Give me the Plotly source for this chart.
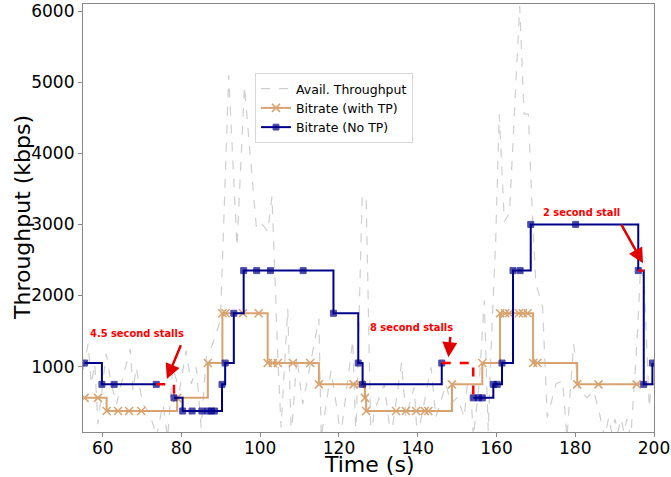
import plotly.graph_objects as go

# ---------------- data ----------------
tp_time = [55.0, 56.3, 57.1, 58.0, 58.8, 60.9, 62.2, 63.5, 64.7, 67.0, 67.7, 68.5, 70.2, 71.5,
           72.8, 73.6, 75.3, 76.5, 77.8, 79.5, 81.2, 82.5, 83.8, 85.0, 86.3, 87.8, 89.9, 92.0,
           94.1, 96.0, 99.0, 100.0, 101.9, 103.0, 104.5, 105.3, 107.0, 107.9, 109.3, 110.8,
           112.9, 114.9, 115.5, 118.0, 119.7, 120.4, 123.5, 124.3, 125.9, 126.9, 128.1, 129.0,
           131.5, 133.2, 135.9, 137.0, 139.1, 139.9, 143.4, 144.6, 147.2, 148.4, 150.1, 151.8,
           152.6, 153.5, 154.1, 155.6, 156.9, 157.9, 158.6, 159.8, 160.7, 162.0, 163.3, 165.9,
           167.0, 168.1, 169.1, 170.0, 171.7, 172.9, 175.1, 176.8, 177.9, 179.6, 180.9, 183.0,
           184.7, 186.0, 187.5, 188.5, 189.3, 190.1, 190.8, 191.6, 192.4, 193.1, 194.1, 195.8,
           196.6, 197.5, 198.8, 199.7, 200.4]
tp_kbps = [950, 1320, 755, 1040, 190, 1180, 755, 470, 755, 1250, 660, 990, 470, 380,
           190, 0, 470, 0, 990, 660, 1225, 755, 990, 140, 1130, 1300, 1650, 5100,
           2690, 4940, 2970, 3040, 2900, 3395, 1085, 140, 1815, 0, 1130, 470,
           1085, 1675, 0, 945, 330, 0, 1370, 0, 3395, 3395, 0, 380,
           755, 0, 1060, 280, 710, 0, 990, 285, 755, 480, 565, 285,
           755, 660, 0, 755, 1930, 95, 1225, 2780, 4550, 3040, 3160, 6070,
           4550, 4550, 3160, 2170, 1840, 285, 755, 800, 0, 1320, 660, 565,
           660, 380, 0, 285, 70, 265, 70, 265, 70, 265, 0, 1460,
           2400, 2170, 425, 990, 1370]

with_tp_time = [55.4, 58.8, 61.0, 63.9, 66.7, 69.8, 78.9, 86.7, 90.4, 91.2, 95.6, 99.6, 101.9,
                103.2, 104.5, 108.3, 112.7, 114.9, 123.7, 125.5, 126.6, 126.9, 134.5, 137.0,
                139.6, 141.8, 142.7, 148.7, 156.4, 160.9, 162.2, 163.2, 165.7, 166.7, 167.9,
                169.3, 170.4, 180.5, 185.9, 195.6, 201.0]
with_tp_kbps = [560, 560, 375, 375, 375, 375, 560, 1050, 1750, 1750, 1750, 1750, 1050,
                1050, 1050, 1050, 1050, 750, 750, 750, 560, 375, 375, 375,
                375, 375, 375, 750, 1050, 1750, 1750, 1750, 1750, 1750, 1750,
                1050, 1050, 750, 750, 750, 750]

no_tp_time = [55.4, 59.8, 62.9, 73.6, None, 78.1, 80.3, 82.7, 85.2, 86.7, 87.6, 88.4, 90.3,
              91.1, 93.3, 95.8, 99.1, 102.6, 110.9, 118.6, 124.9, 126.0, 146.1, None,
              154.1, 155.4, 156.4, 159.2, 160.2, 161.4, 164.2, 166.0, 168.7, 180.1, 196.0,
              None, 197.3, 197.4, 199.6]
no_tp_kbps = [1050, 750, 750, 750, None, 560, 375, 375, 375, 375, 375, 375, 750,
              1050, 1750, 2350, 2350, 2350, 2350, 1750, 1050, 750, 1050, None,
              560, 560, 560, 750, 750, 1050, 2350, 2350, 3000, 3000, 2350,
              None, 2350, 750, 1050]
no_tp_show = [1] * len(no_tp_time)
no_tp_show[36] = 0  # hidden helper point after the 2 s stall

stall_segments = [([73.6, 78.1], [750, 560]),
                  ([146.1, 154.1], [1050, 560]),
                  ([196.0, 197.3], [2350, 2350])]

stall_labels = ["4.5 second stalls", "8 second stalls", "2 second stall"]
label_pos = [(68.6, 1470), (138.5, 1556), (181.5, 3168)]
arrow_tail = [(80.0, 1321), (148.3, 1438), (191.5, 3018)]
arrow_head = [(76.3, 826), (147.8, 1132), (197.2, 2453)]

x_ticks = [60, 80, 100, 120, 140, 160, 180, 200]
y_ticks = [1000, 2000, 3000, 4000, 5000, 6000]
x_range = [55, 200]
y_range = [80, 6100]

# ---------------- figure ----------------
BLUE = "#00008B"
ORANGE = "#D9A26E"
FONT = "DejaVu Sans"
ML, MR, MT, MB = 83, 17, 4, 45
W, H = 671, 477
PW, PH = W - ML - MR, H - MT - MB

fig = go.Figure()

fig.add_trace(go.Scatter(
    x=tp_time, y=tp_kbps, mode="lines", name="Avail. Throughput",
    line=dict(color="#cfcfcf", width=1.2, dash="dash")))

fig.add_trace(go.Scatter(
    x=with_tp_time, y=with_tp_kbps, mode="lines+markers", name="Bitrate (with TP)",
    line=dict(color=ORANGE, width=2, shape="hv"),
    marker=dict(symbol="x-thin", size=8, color=ORANGE, line=dict(width=1.5, color=ORANGE))))

fig.add_trace(go.Scatter(
    x=no_tp_time, y=no_tp_kbps, mode="lines+markers", name="Bitrate (No TP)",
    connectgaps=False,
    line=dict(color=BLUE, width=2, shape="hv"),
    marker=dict(symbol="square", size=[6 * s for s in no_tp_show], color=BLUE,
                line=dict(width=1, color=BLUE))))

for xs, ys in stall_segments:
    fig.add_trace(go.Scatter(
        x=xs, y=ys, mode="lines", showlegend=False,
        line=dict(color="#ff0000", width=2.5, dash="dash", shape="hv")))

# helper (empty) trace on a twin x axis that only draws the outside tick marks
fig.add_trace(go.Scatter(x=[None], y=[None], xaxis="x2", showlegend=False, hoverinfo="skip"))

for txt, (tx, ty) in zip(stall_labels, label_pos):
    fig.add_annotation(x=tx, y=ty, text="<b>" + txt + "</b>", showarrow=False,
                       font=dict(family="DejaVu Sans Condensed, Liberation Sans, sans-serif",
                                 size=11, color="#ff0000"),
                       xanchor="center", yanchor="middle")

for (hx, hy), (ax_, ay_) in zip(arrow_head, arrow_tail):
    fig.add_annotation(x=hx, y=hy, ax=ax_, ay=ay_, axref="x", ayref="y", text="",
                       showarrow=True, arrowhead=2, arrowsize=1.2, arrowwidth=2.5,
                       arrowcolor="#e00000", standoff=0, startstandoff=0)

# axis titles as paper-positioned annotations
fig.add_annotation(xref="paper", yref="paper", x=0.5, y=(432 - 465) / PH,
                   text="Time (s)", showarrow=False, xanchor="center", yanchor="middle",
                   font=dict(family=FONT, size=22, color="black"))
fig.add_annotation(xref="paper", yref="paper", x=(22 - ML) / PW, y=(432 - 218) / PH,
                   text="Throughput (kbps)", showarrow=False, textangle=-90,
                   xanchor="center", yanchor="middle",
                   font=dict(family=FONT, size=22, color="black"))

fig.update_layout(
    width=W, height=H,
    margin=dict(l=ML, r=MR, t=MT, b=MB, autoexpand=False),
    paper_bgcolor="white", plot_bgcolor="white",
    font=dict(family=FONT, color="black"),
    showlegend=True,
    legend=dict(x=(255 - ML) / PW, y=(432 - 73) / PH, xanchor="left", yanchor="top",
                bgcolor="rgba(255,255,255,0.8)", bordercolor="#d8d8d8", borderwidth=1,
                font=dict(family=FONT, size=12.5)),
    xaxis=dict(
        range=x_range, tickvals=x_ticks, ticktext=[str(v) for v in x_ticks],
        automargin=False, showgrid=False, zeroline=False, showline=True, mirror=True,
        linecolor="#888888", linewidth=1.2, ticks="", ticklen=0, tickfont=dict(size=17)),
    xaxis2=dict(
        range=x_range, tickvals=x_ticks, overlaying="x", side="bottom", anchor="y",
        automargin=False, showgrid=False, zeroline=False, showline=False,
        showticklabels=False, ticks="outside", ticklen=4, tickcolor="#888888", tickwidth=1),
    yaxis=dict(
        range=y_range, tickvals=y_ticks, ticktext=[str(v) for v in y_ticks],
        automargin=False, showgrid=False, zeroline=False, showline=True, mirror=True,
        linecolor="#888888", linewidth=1.2, ticks="outside", ticklen=4, tickcolor="#888888",
        tickfont=dict(size=17)),
)

fig.write_html("out.html", config={"displayModeBar": False},
               post_script="document.body.style.margin='0';document.body.style.overflow='hidden';")
